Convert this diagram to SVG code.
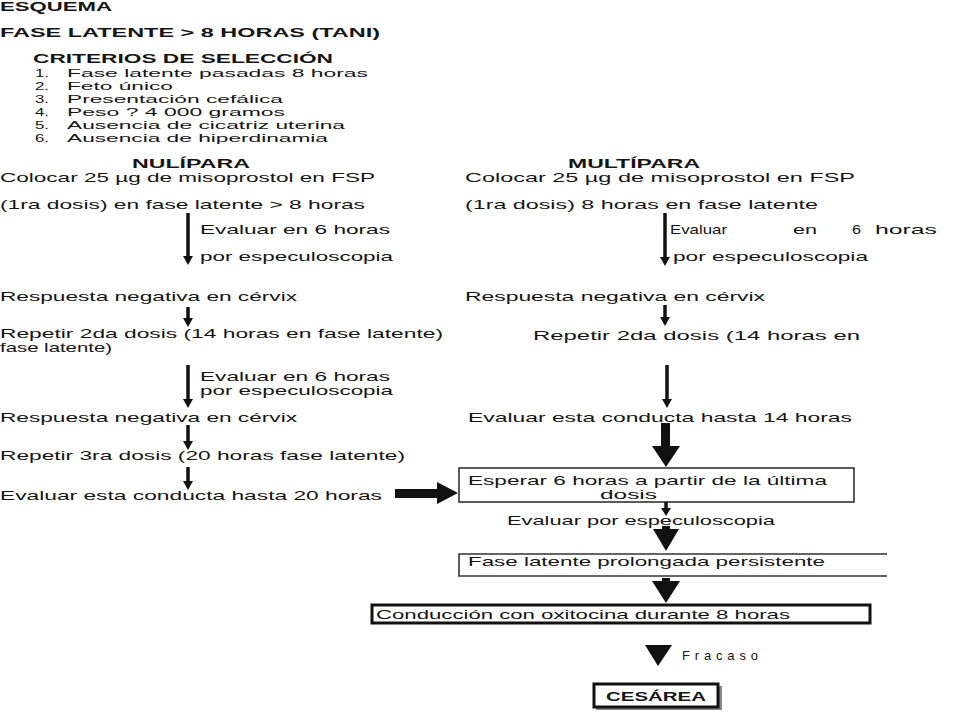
<svg xmlns="http://www.w3.org/2000/svg" width="960" height="720" viewBox="0 0 960 720">
<style>
text{font-family:"Liberation Sans",Arial,sans-serif;font-size:13px;fill:#151515}
.b{font-weight:bold}
.li{font-size:11.5px}
.box{fill:none;stroke:#333;stroke-width:1.6}
.boxk{fill:#fff;stroke:#111;stroke-width:3}
.ln{stroke:#111;stroke-width:3.5;fill:none}
.hd{fill:#111}
</style>
<rect width="960" height="720" fill="#fff"/>
<g id="header">
<text class="b" x="0" y="11" font-size="12" textLength="112" lengthAdjust="spacingAndGlyphs">ESQUEMA</text>
<text class="b" x="0" y="37" textLength="380" lengthAdjust="spacingAndGlyphs">FASE LATENTE &gt; 8 HORAS  (TANI)</text>
</g>
<g id="criterios">
<text class="b" x="33" y="63" textLength="300" lengthAdjust="spacingAndGlyphs">CRITERIOS DE SELECCIÓN</text>
<text class="li" x="35" y="77" textLength="14" lengthAdjust="spacingAndGlyphs">1.</text><text class="li" x="67" y="77" textLength="301" lengthAdjust="spacingAndGlyphs">Fase latente pasadas 8 horas</text>
<text class="li" x="35" y="90" textLength="14" lengthAdjust="spacingAndGlyphs">2.</text><text class="li" x="67" y="90" textLength="106" lengthAdjust="spacingAndGlyphs">Feto único</text>
<text class="li" x="35" y="103" textLength="14" lengthAdjust="spacingAndGlyphs">3.</text><text class="li" x="67" y="103" textLength="216" lengthAdjust="spacingAndGlyphs">Presentación cefálica</text>
<text class="li" x="35" y="116" textLength="14" lengthAdjust="spacingAndGlyphs">4.</text><text class="li" x="67" y="116" textLength="218" lengthAdjust="spacingAndGlyphs">Peso ? 4 000 gramos</text>
<text class="li" x="35" y="129" textLength="14" lengthAdjust="spacingAndGlyphs">5.</text><text class="li" x="67" y="129" textLength="278" lengthAdjust="spacingAndGlyphs">Ausencia de cicatriz uterina</text>
<text class="li" x="35" y="142" textLength="14" lengthAdjust="spacingAndGlyphs">6.</text><text class="li" x="67" y="142" textLength="261" lengthAdjust="spacingAndGlyphs">Ausencia de hiperdinamia</text>
</g>
<g id="nulipara">
<text class="b" x="132" y="168" textLength="118" lengthAdjust="spacingAndGlyphs">NULÍPARA</text>
<text x="0" y="182" textLength="375" lengthAdjust="spacingAndGlyphs">Colocar 25 µg de misoprostol en FSP</text>
<text x="0" y="209" textLength="365" lengthAdjust="spacingAndGlyphs">(1ra dosis) en fase latente &gt; 8 horas</text>
<text x="200" y="234" textLength="190" lengthAdjust="spacingAndGlyphs">Evaluar en 6 horas</text>
<text x="200" y="261" textLength="193" lengthAdjust="spacingAndGlyphs">por especuloscopia</text>
<text x="0" y="301" textLength="297" lengthAdjust="spacingAndGlyphs">Respuesta negativa en cérvix</text>
<text x="0" y="338" textLength="443" lengthAdjust="spacingAndGlyphs">Repetir 2da dosis (14 horas en fase latente)</text>
<text x="0" y="352" textLength="112" lengthAdjust="spacingAndGlyphs">fase latente)</text>
<text x="200" y="381" font-size="12" textLength="190" lengthAdjust="spacingAndGlyphs">Evaluar en 6 horas</text>
<text x="200" y="395" font-size="12" textLength="193" lengthAdjust="spacingAndGlyphs">por especuloscopia</text>
<text x="0" y="422" textLength="297" lengthAdjust="spacingAndGlyphs">Respuesta negativa en cérvix</text>
<text x="0" y="460" textLength="405" lengthAdjust="spacingAndGlyphs">Repetir 3ra dosis (20 horas fase latente)</text>
<text x="0" y="500" textLength="382" lengthAdjust="spacingAndGlyphs">Evaluar esta conducta hasta 20 horas</text>
</g>
<g id="multipara">
<text class="b" x="568" y="168" textLength="132" lengthAdjust="spacingAndGlyphs">MULTÍPARA</text>
<text x="465" y="182" textLength="390" lengthAdjust="spacingAndGlyphs">Colocar 25 µg de misoprostol en FSP</text>
<text x="465" y="209" textLength="353" lengthAdjust="spacingAndGlyphs">(1ra dosis) 8 horas  en fase latente</text>
<text x="670" y="234" textLength="57" lengthAdjust="spacingAndGlyphs">Evaluar</text>
<text x="793" y="234" textLength="24" lengthAdjust="spacingAndGlyphs">en</text>
<text x="852" y="234" textLength="9" lengthAdjust="spacingAndGlyphs">6</text>
<text x="875" y="234" textLength="62" lengthAdjust="spacingAndGlyphs">horas</text>
<text x="673" y="261" textLength="195" lengthAdjust="spacingAndGlyphs">por especuloscopia</text>
<text x="465" y="301" textLength="300" lengthAdjust="spacingAndGlyphs">Respuesta negativa en cérvix</text>
<text x="533" y="340" textLength="327" lengthAdjust="spacingAndGlyphs">Repetir 2da dosis (14 horas en</text>
<text x="468" y="422" textLength="384" lengthAdjust="spacingAndGlyphs">Evaluar esta conducta hasta 14 horas</text>
</g>
<g id="esperar">
<rect class="box" x="459" y="468" width="395" height="34"/>
<text x="468" y="485" font-size="12.5" textLength="359" lengthAdjust="spacingAndGlyphs">Esperar 6 horas a partir de la última</text>
<text x="600" y="499" font-size="12" textLength="57" lengthAdjust="spacingAndGlyphs">dosis</text>
</g>
<g id="evaluar-esp">
<text x="507" y="525" textLength="268" lengthAdjust="spacingAndGlyphs">Evaluar por especuloscopia</text>
</g>
<g id="fase-prolongada">
<path class="box" d="M887,554 H459 V576 H887"/>
<text x="468" y="566" textLength="357" lengthAdjust="spacingAndGlyphs">Fase latente prolongada persistente</text>
</g>
<g id="conduccion">
<rect class="boxk" x="372" y="605" width="498" height="18" stroke-width="2.5"/>
<text x="376" y="619" textLength="414" lengthAdjust="spacingAndGlyphs">Conducción con oxitocina durante 8 horas</text>
</g>
<g id="fracaso-label">
<text x="682" y="660" font-size="11" textLength="76" lengthAdjust="spacing">Fracaso</text>
</g>
<g id="cesarea">
<rect x="596" y="686" width="126" height="24" fill="#888"/>
<rect class="boxk" x="594" y="684" width="124" height="23"/>
<text class="b" x="656" y="701" text-anchor="middle" textLength="100" lengthAdjust="spacingAndGlyphs">CESÁREA</text>
</g>
<g id="connectors">
<line class="ln" x1="188" y1="213" x2="188" y2="258"/><polygon class="hd" points="183,256 193,256 188,265"/>
<line class="ln" x1="188" y1="307" x2="188" y2="320"/><polygon class="hd" points="183,318 193,318 188,327"/>
<line class="ln" x1="188" y1="365" x2="188" y2="401"/><polygon class="hd" points="183,399 193,399 188,408"/>
<line class="ln" x1="188" y1="425" x2="188" y2="443"/><polygon class="hd" points="183,441 193,441 188,450"/>
<line class="ln" x1="188" y1="467" x2="188" y2="483"/><polygon class="hd" points="183,481 193,481 188,490"/>
<rect class="hd" x="395" y="489" width="43" height="9"/><polygon class="hd" points="437,482 437,504 458,493"/>
<line class="ln" x1="665" y1="213" x2="665" y2="259"/><polygon class="hd" points="660,257 670,257 665,266"/>
<line class="ln" x1="665" y1="305" x2="665" y2="319"/><polygon class="hd" points="660,317 670,317 665,326"/>
<line class="ln" x1="667" y1="365" x2="667" y2="401"/><polygon class="hd" points="662,399 672,399 667,408"/>
<rect class="hd" x="661" y="423" width="9" height="25"/><polygon class="hd" points="652,446 680,446 666,467"/>
<line class="ln" x1="666" y1="502" x2="666" y2="510"/><polygon class="hd" points="661,508 671,508 666,516"/>
<rect class="hd" x="662" y="526" width="8" height="4"/><polygon class="hd" points="653,529 679,529 666,551"/>
<rect class="hd" x="662" y="578" width="8" height="4"/><polygon class="hd" points="652,581 680,581 666,603"/>
<polygon class="hd" points="645,645 672,645 658,666"/>
</g>
</svg>
